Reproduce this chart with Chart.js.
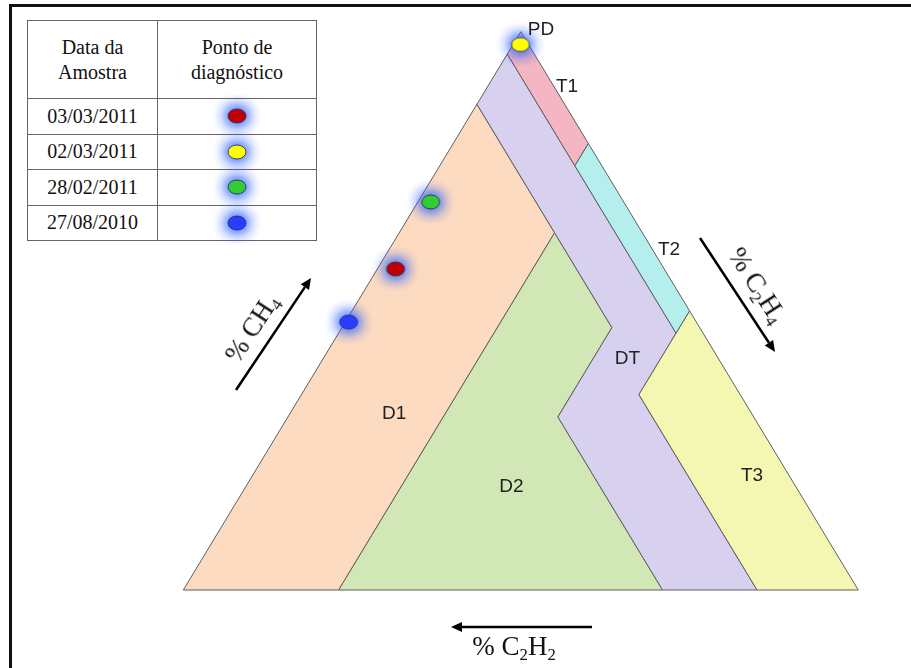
<!DOCTYPE html>
<html><head><meta charset="utf-8">
<script src="https://cdn.jsdelivr.net/npm/chart.js@4.4.0/dist/chart.umd.min.js"></script>
<style>
html,body{margin:0;padding:0;background:#fff;width:911px;height:668px;overflow:hidden;position:relative}
#frame{position:absolute;left:9px;top:4px;width:920px;height:700px;border-left:3px solid #111;border-top:3px solid #111;box-sizing:border-box;pointer-events:none}
#c{position:absolute;left:0;top:0}
#legend{position:absolute;left:27px;top:20px;border-collapse:collapse;font-family:"Liberation Serif",serif;font-size:20px;color:#111;background:#fff}
#legend td{border:1px solid #666;text-align:center;padding:0;line-height:25px}
#legend canvas{display:block;margin:0 auto}
.axlab{position:absolute;font-family:"Liberation Serif",serif;font-size:27px;color:#111;white-space:nowrap}
.axlab sub{font-size:62%;vertical-align:-0.28em}
</style></head>
<body>
<canvas id="c" width="911" height="668"></canvas>
<div id="frame"></div>
<table id="legend"></table>
<div class="axlab" style="left:253px;top:329px;transform:translate(-50%,-50%) rotate(-57deg)">% CH<sub>4</sub></div>
<div class="axlab" style="left:756px;top:286px;transform:translate(-50%,-50%) rotate(57deg)">% C<sub>2</sub>H<sub>4</sub></div>
<div class="axlab" style="left:514px;top:648px;transform:translate(-50%,-50%)">% C<sub>2</sub>H<sub>2</sub></div>
<script>
// ---- Data: Duval triangle zones, vertices as [%CH4, %C2H4, %C2H2] ----
const zonePD = [[100,0,0],[98,2,0],[98,0,2]];
const zoneT1 = [[98,0,2],[98,2,0],[80,20,0],[76,20,4],[96,0,4]];
const zoneT2 = [[80,20,0],[50,50,0],[46,50,4],[76,20,4]];
const zoneT3 = [[50,50,0],[0,100,0],[0,85,15],[35,50,15]];
const zoneDT = [[96,0,4],[76,20,4],[46,50,4],[35,50,15],[0,85,15],[0,71,29],[31,40,29],[47,40,13],[64,23,13],[87,0,13]];
const zoneD1 = [[87,0,13],[64,23,13],[0,23,77],[0,0,100]];
const zoneD2 = [[64,23,13],[47,40,13],[31,40,29],[0,71,29],[0,23,77]];
const zoneNames = ['PD','T1','T2','T3','DT','D1','D2'];

// ---- Data: samples ----
const sampleDates = ['03/03/2011','02/03/2011','28/02/2011','27/08/2010'];
const sampleCH4   = [57.5, 97.7, 69.5, 48.0];
const sampleC2H4  = [2.7, 1.1, 1.9, 0.5];
const sampleC2H2  = [39.8, 1.2, 28.6, 51.5];

// ---- Styles ----
const zoneColors = {PD:'#e2d6ee',T1:'#f4b6c2',T2:'#b4efee',T3:'#f3f7b2',DT:'#d7d1ef',D1:'#fcdbc1',D2:'#d1e7b5'};
const sampleColors = ['#c00000','#ffff00','#33cc33','#2a3cff'];
const labelAnchors = {PD:[100.3,2.85],T1:[90.1,11.8],T2:[60.9,41.5],T3:[20.4,74.05],DT:[41.4,45.1],D1:[31.5,15.5],D2:[18.45,39.4]};

// ternary -> cartesian data units (x along base, y = CH4 height)
function toXY(ch4, c2h4, c2h2){ const s = ch4+c2h4+c2h2; const a=ch4/s*100, b=c2h4/s*100; return {x: b + a/2, y: a}; }

function makeDot(color){
  const c=document.createElement('canvas'); c.width=52; c.height=46;
  const g=c.getContext('2d');
  g.shadowColor='rgba(50,100,255,0.95)'; g.shadowBlur=15;
  g.fillStyle=color; g.beginPath(); g.ellipse(26,23,9,7,0,0,Math.PI*2); g.fill(); g.fill(); g.fill();
  g.shadowBlur=0; g.fill(); g.lineWidth=1; g.strokeStyle='#2b3b7a'; g.stroke();
  return c;
}

// legend table
const tbl=document.getElementById('legend');
let hr=tbl.insertRow(); hr.style.height='78px';
let h1=hr.insertCell(); h1.style.width='129px'; h1.innerHTML='Data da<br>Amostra';
let h2=hr.insertCell(); h2.style.width='158px'; h2.innerHTML='Ponto de<br>diagnóstico';
sampleDates.forEach((d,i)=>{
  const r=tbl.insertRow(); r.style.height='35.5px';
  r.insertCell().textContent=d;
  const cc=r.insertCell(); const dot=makeDot(sampleColors[i]); dot.style.margin='-6px auto'; cc.appendChild(dot);
});

const zones={PD:zonePD,T1:zoneT1,T2:zoneT2,T3:zoneT3,DT:zoneDT,D1:zoneD1,D2:zoneD2};
const datasets = zoneNames.map((n,i)=>{
  const pts = zones[n].map(v=>toXY(v[0],v[1],v[2]));
  pts.push(pts[0]);
  return {label:n,data:pts,showLine:true,fill:'shape',backgroundColor:zoneColors[n],borderColor:'#5e5e5e',borderWidth:1,pointRadius:0,tension:0,clip:false,order:10+i};
});
datasets.push({label:'Amostras',data:sampleDates.map((d,i)=>toXY(sampleCH4[i],sampleC2H4[i],sampleC2H2[i])),pointStyle:sampleColors.map(makeDot),pointRadius:9,showLine:false,clip:false,order:0});

const decor={id:'decor',afterDatasetsDraw(chart){
  const ctx=chart.ctx, xs=chart.scales.x, ys=chart.scales.y;
  ctx.save();
  ctx.fillStyle='#222'; ctx.font='19px "Liberation Sans", Arial, sans-serif'; ctx.textAlign='center'; ctx.textBaseline='middle';
  zoneNames.forEach(n=>{ const a=labelAnchors[n]; ctx.fillText(n, xs.getPixelForValue(a[1]+a[0]/2), ys.getPixelForValue(a[0])); });
  function arrow(x1,y1,x2,y2){
    ctx.strokeStyle='#000'; ctx.fillStyle='#000'; ctx.lineWidth=2.5;
    const ang=Math.atan2(y2-y1,x2-x1), L=11, W=5;
    const bx=x2-L*Math.cos(ang), by=y2-L*Math.sin(ang);
    ctx.beginPath(); ctx.moveTo(x1,y1); ctx.lineTo(bx,by); ctx.stroke();
    ctx.beginPath(); ctx.moveTo(x2,y2); ctx.lineTo(bx+W*Math.sin(ang),by-W*Math.cos(ang)); ctx.lineTo(bx-W*Math.sin(ang),by+W*Math.cos(ang)); ctx.closePath(); ctx.fill();
  }
  arrow(236,390,311,278);
  arrow(700,238,775,352);
  arrow(592,627,451,627);
  ctx.restore();
}};

new Chart(document.getElementById('c'),{
  type:'scatter',
  data:{datasets},
  options:{
    responsive:false,animation:false,devicePixelRatio:1,
    layout:{padding:{left:183.3,right:52.7,top:31.7,bottom:78}},
    scales:{x:{type:'linear',min:0,max:100,display:false},y:{type:'linear',min:0,max:100,display:false}},
    plugins:{legend:{display:false},tooltip:{enabled:false}}
  },
  plugins:[decor]
});
</script>
</body></html>
